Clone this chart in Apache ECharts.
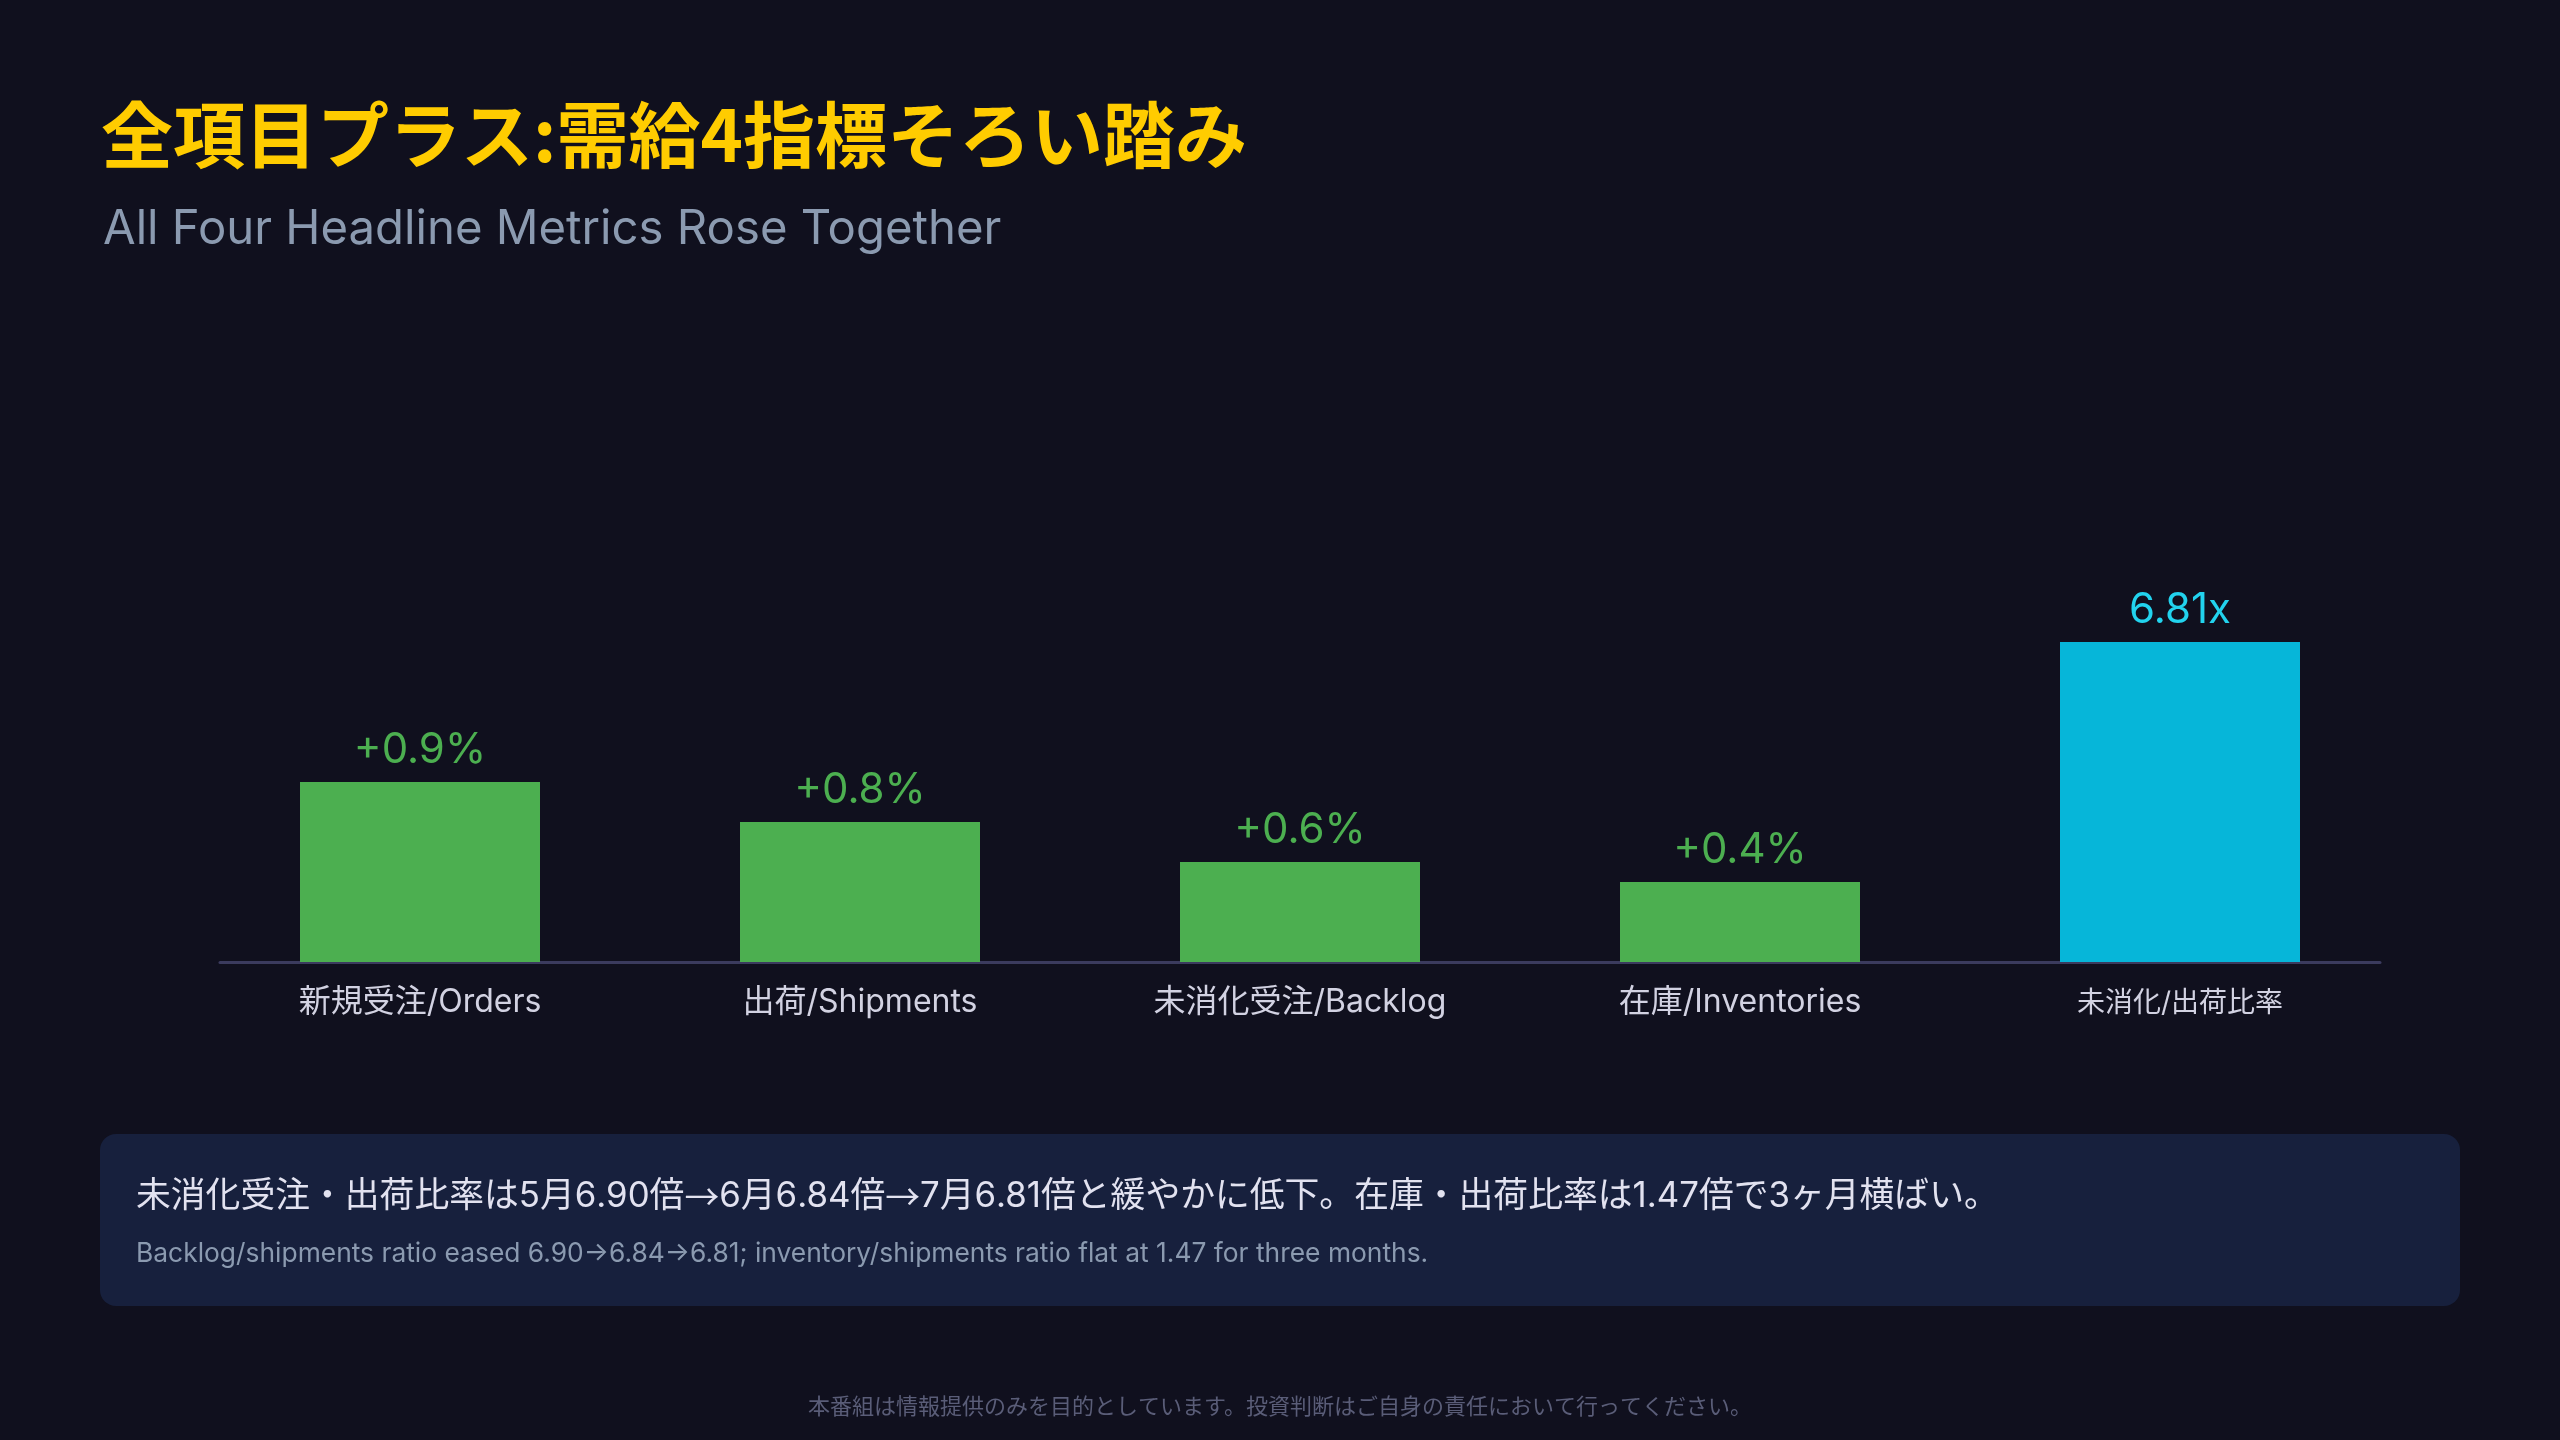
<!DOCTYPE html>
<html>
<head>
<meta charset="utf-8">
<script src="https://cdn.jsdelivr.net/npm/echarts@6/dist/echarts.min.js"></script>
<style>
  html, body { margin: 0; padding: 0; background: #10101e; }
  #chart { width: 2560px; height: 1440px; }
</style>
</head>
<body>
<div id="chart"></div>
<script>
// categories on the x axis
const categories = ['新規受注/Orders', '出荷/Shipments', '未消化受注/Backlog', '在庫/Inventories', '未消化/出荷比率']
// bar heights as drawn (0-100 scale)
const barHeights = [45, 35, 25, 20, 80]
// text shown above each bar
const valueLabels = ['+0.9%', '+0.8%', '+0.6%', '+0.4%', '6.81x']
// which bars are the ratio (cyan) rather than a change (green)
const isRatio = [false, false, false, false, true]

const FONT = 'Inter, "Noto Sans CJK JP", sans-serif'
const CJK = '"Noto Sans CJK JP", sans-serif'
const GREEN = '#4caf50'
const CYAN = '#06b6d9'
const CYAN_TEXT = '#22d3ee'

const noteJa = '未消化受注・出荷比率は5月6.90倍→6月6.84倍→7月6.81倍と緩やかに低下。在庫・出荷比率は1.47倍で3ヶ月横ばい。'
const noteEn = 'Backlog/shipments ratio eased 6.90→6.84→6.81; inventory/shipments ratio flat at 1.47 for three months.'
const disclaimer = '本番組は情報提供のみを目的としています。投資判断はご自身の責任において行ってください。'

const chart = echarts.init(document.getElementById('chart'))

const option = {
  backgroundColor: '#10101e',
  textStyle: { fontFamily: FONT },
  title: [
    {
      text: '全項目プラス:需給4指標そろい踏み',
      left: 96,
      top: 94,
      textStyle: { color: '#ffcc00', fontSize: 72, fontWeight: 'bold', lineHeight: 72, fontFamily: CJK }
    },
    {
      text: 'All Four Headline Metrics Rose Together',
      left: 98,
      top: 201,
      textStyle: { color: '#8b9ab0', fontSize: 47.3, fontWeight: 'normal', lineHeight: 47.3, fontFamily: FONT }
    }
  ],
  grid: [
    { left: 200, right: 160, top: 562, bottom: 478 },
    // only used to draw the baseline a bit inset from the bar slots
    { left: 220, right: 180, top: 562, bottom: 478 }
  ],
  xAxis: [
    {
      type: 'category',
      gridIndex: 0,
      data: categories.map((c, i) => isRatio[i]
        ? { value: c, textStyle: { fontSize: 28, padding: [4, 0, 0, 0] } }
        : c),
      axisLine: { show: false },
      axisTick: { show: false },
      axisLabel: { color: '#d2d2e2', fontSize: 32, margin: 24, fontFamily: FONT, interval: 0 }
    },
    {
      type: 'value',
      gridIndex: 1,
      axisLine: { show: true, lineStyle: { color: '#3b3b5e', width: 3 } },
      axisTick: { show: false },
      axisLabel: { show: false },
      splitLine: { show: false }
    }
  ],
  yAxis: [
    { type: 'value', gridIndex: 0, min: 0, max: 100, show: false },
    { type: 'value', gridIndex: 1, min: 0, max: 1, show: false }
  ],
  series: [
    {
      type: 'bar',
      xAxisIndex: 0,
      yAxisIndex: 0,
      barWidth: 240,
      data: barHeights.map((v, i) => ({
        value: v,
        itemStyle: { color: isRatio[i] ? CYAN : GREEN },
        label: { color: isRatio[i] ? CYAN_TEXT : GREEN }
      })),
      label: {
        show: true,
        position: 'top',
        distance: 11,
        fontSize: 42,
        lineHeight: 42,
        fontFamily: FONT,
        formatter: p => valueLabels[p.dataIndex]
      },
      silent: true
    }
  ],
  graphic: [
    {
      type: 'rect',
      shape: { x: 100, y: 1134, width: 2360, height: 172, r: 16 },
      style: { fill: '#17203d' },
      silent: true
    },
    {
      type: 'text',
      x: 136,
      y: 1197,
      style: {
        text: noteJa.split('→').join('{arr|→}'),
        fill: '#e2e2f0',
        font: '34.8px ' + FONT,
        verticalAlign: 'middle',
        rich: { arr: { fontFamily: CJK, fontSize: 34.8, fill: '#e2e2f0' } }
      }
    },
    {
      type: 'text',
      x: 136,
      y: 1254,
      style: {
        text: noteEn,
        fill: '#8b9ab0',
        font: '26.4px ' + FONT,
        verticalAlign: 'middle'
      }
    },
    {
      type: 'text',
      x: 1280,
      y: 1406,
      style: {
        text: disclaimer,
        fill: '#5a5d78',
        font: '22px ' + CJK,
        align: 'center',
        verticalAlign: 'middle'
      }
    }
  ]
}

chart.setOption(option)
</script>
</body>
</html>
